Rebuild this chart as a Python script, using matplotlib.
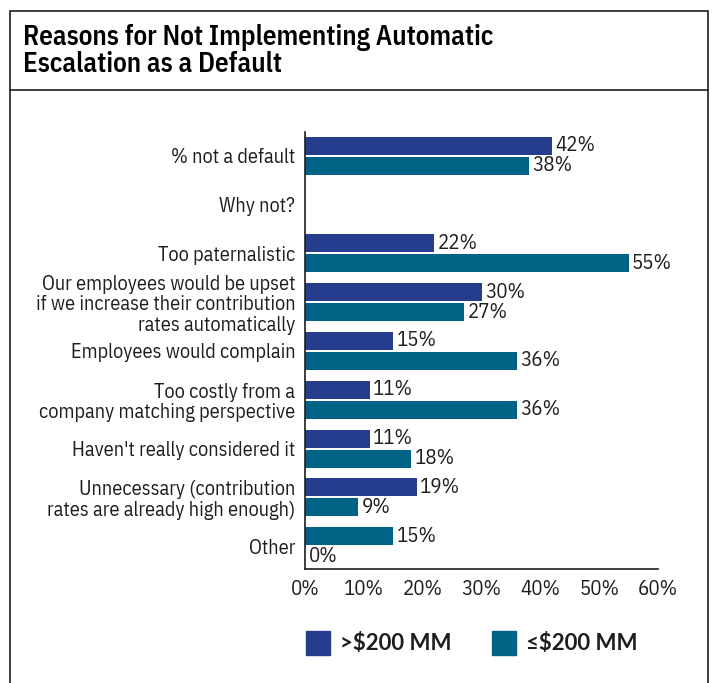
import numpy as np
import matplotlib.pyplot as plt
from matplotlib.patches import Rectangle

# categories, top to bottom
categories = ["% not a default",
              "Why not?",
              "Too paternalistic",
              "Our employees would be upset\nif we increase their contribution\nrates automatically",
              "Employees would complain",
              "Too costly from a\ncompany matching perspective",
              "Haven't really considered it",
              "Unnecessary (contribution\nrates are already high enough)",
              "Other"]

# percent values per asset size (None = no bar)
big_plans = [42, None, 22, 30, 15, 11, 11, 19, 15]
small_plans = [38, None, 55, 27, 36, 36, 18, 9, 0]

series_names = [">$200 MM", "≤$200 MM"]
ticks = [0, 10, 20, 30, 40, 50, 60]

navy = "#263c8c"
teal = "#006385"
ink = "#1e1e1e"
narrow = ["IBM Plex Sans Condensed", "Archivo Narrow", "DejaVu Sans"]
title_font = ["IBM Plex Sans Condensed", "DejaVu Sans"]
wide = ["Lato", "DejaVu Sans"]

fig = plt.figure(figsize=(7.12, 6.83), dpi=100)

# frame around the whole chart and the title divider
fig.patches.append(Rectangle((10/712, -0.1), 698/712, 1.1 - 11/683, transform=fig.transFigure,
                             fill=False, edgecolor=ink, lw=1.2))
fig.lines.append(plt.Line2D([10/712, 708/712], [1 - 90/683, 1 - 90/683], transform=fig.transFigure,
                            color=ink, lw=1.2))
fig.text(23/712, 1 - 51/683, "Reasons for Not Implementing Automatic\nEscalation as a Default",
         fontsize=19.5, fontweight="semibold", family=title_font, va="center", ha="left",
         linespacing=1.02, color="black")

ax = fig.add_axes([305/712, 1 - 569/683, 353/712, 437/683])

y = np.arange(len(categories))
h = 0.37
off = 0.205
fs = 15
for i in range(len(categories)):
    if big_plans[i] is not None:
        # the "Other" row uses the teal fill on its upper bar
        c = teal if categories[i] == "Other" else navy
        ax.barh(y[i] - off, big_plans[i], height=h, color=c)
        ax.text(big_plans[i] + 0.6, y[i] - off, f"{big_plans[i]}%", va="center", ha="left",
                fontsize=fs, family=narrow, color=ink)
    if small_plans[i] is not None:
        ax.barh(y[i] + off, small_plans[i], height=h, color=teal)
        ax.text(small_plans[i] + 0.6, y[i] + off, f"{small_plans[i]}%", va="center", ha="left",
                fontsize=fs, family=narrow, color=ink)

ax.set_xlim(0, 60)
ax.set_ylim(8.47, -0.49)
ax.set_xticks(ticks)
ax.set_xticklabels([f"{t}%" for t in ticks], fontsize=fs, family=narrow, color=ink)
ax.set_yticks(y)
ax.set_yticklabels(categories, fontsize=14.6, family=narrow, color=ink, linespacing=1.1)
ax.tick_params(axis="y", length=0, pad=7)
ax.tick_params(axis="x", length=0, pad=8)
for s in ["top", "right"]:
    ax.spines[s].set_visible(False)
for s in ["left", "bottom"]:
    ax.spines[s].set_color(ink)
    ax.spines[s].set_linewidth(1.2)

# legend drawn as squares and labels
for x0, col, name in [(306, navy, series_names[0]), (492, teal, series_names[1])]:
    fig.patches.append(Rectangle((x0/712, 1 - 655/683), 24/712, 24/683, transform=fig.transFigure,
                                 color=col))
    fig.text((x0 + 34)/712, 1 - 643/683, name, fontsize=16, fontweight="bold",
             family=wide, va="center", ha="left", color=ink)

fig.savefig("out.png", dpi=100)
